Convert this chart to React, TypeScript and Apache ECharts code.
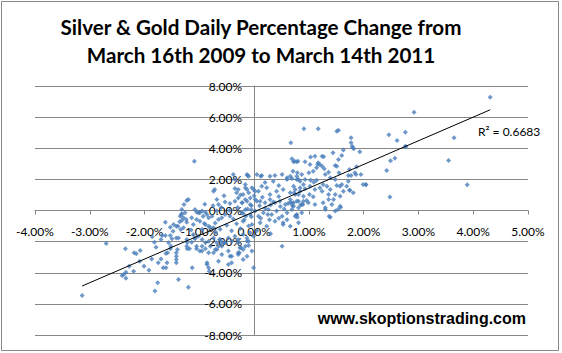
import React, { useEffect, useRef } from "react";
import * as echarts from "echarts";

// Daily % change: [gold %, silver %]
const TAIL_LOW: [number, number][] = [
  [-3.14, -5.46], [-2.70, -2.12], [-2.35, -2.46], [-2.19, -2.72], [-2.15, -2.78], [-2.08, -2.57],
  [-2.09, -3.26], [-2.28, -3.58], [-2.20, -3.90], [-2.41, -4.18], [-2.38, -4.11], [-2.34, -3.96],
  [-2.34, -4.35], [-2.01, -3.58], [-1.92, -3.84], [-1.87, -3.11], [-1.79, -2.36], [-1.82, -2.04],
  [-1.86, -1.69], [-1.76, -4.65], [-1.81, -5.18], [-1.70, -3.11], [-1.75, -3.36], [-1.66, -3.68],
  [-1.61, -3.68], [-1.59, -3.36], [-1.61, -2.76], [-1.58, -2.72], [-1.70, -1.86], [-1.68, -1.61],
  [-1.62, -1.61], [-1.62, -0.75], [-1.53, -1.07], [-1.53, -1.61], [-1.52, -2.29], [-1.53, -2.46],
  [-1.56, -2.08], [-1.50, -1.82], [-1.48, -1.33], [-1.47, -0.90], [-1.42, -1.01], [-1.39, -1.01],
  [-1.42, -1.76], [-1.38, -1.76], [-1.42, -2.72], [-1.42, -2.94], [-1.42, -3.15], [-1.42, -3.36],
  [-1.40, -2.51], [-1.38, -4.43], [-1.20, -4.93], [-1.36, -0.73], [-1.32, -0.64], [-1.34, -1.22],
  [-1.29, -1.11], [-1.35, -0.37], [-1.29, -0.47], [-1.32, 0.06], [-1.26, -0.15], [-1.24, -0.58],
  [-1.23, -0.75], [-1.22, -2.46], [-1.28, 0.39], [-1.23, 0.65], [-1.33, -0.26], [-1.23, -1.86],
  [-1.23, -2.29], [-1.22, -2.05],
];

const CORE_LEFT: [number, number][] = [
  [-1.09, 3.17], [-0.74, 1.24], [-0.72, 1.35], [-1.13, -3.68], [-1.18, -2.46], [-1.14, -2.04],
  [-1.08, -1.82], [-0.95, -2.29], [-0.89, -2.46], [-0.99, -2.61], [-1.05, -2.46], [-0.86, -3.47],
  [-0.83, -3.68], [-0.82, -3.90], [-0.74, -2.72], [-0.68, -2.51], [-0.65, -2.29], [-0.63, -1.86],
  [-0.59, -2.04], [-0.55, -2.08], [-0.47, -3.47], [-0.44, -2.94], [-0.27, -2.72], [-0.24, -2.40],
  [-0.16, -2.29], [-0.10, -2.25], [-0.13, -1.97], [-0.01, -3.68], [-0.91, -0.84], [-0.83, -1.01],
  [-0.74, -1.11], [-0.99, -0.15], [-0.89, -0.11], [-1.20, 0.71], [-0.35, 1.41], [-0.32, 1.14],
  [-0.13, 1.35], [-0.10, 1.14], [-0.04, 1.46], [-0.53, 0.55], [-0.44, 0.45], [-0.35, 0.60],
  [-0.29, 0.80], [-0.22, 0.50], [-0.16, 0.70], [-0.07, 0.80], [-1.08, 0.06], [-1.02, -0.15],
  [-0.95, -0.04], [-0.93, -0.37], [-0.86, -0.26], [-0.83, -0.47], [-0.77, -0.37], [-0.68, -0.04],
  [-0.65, -0.58], [-0.59, -0.47], [-0.53, -0.26], [-0.44, -0.37], [-1.14, -0.47], [-1.05, -0.58],
  [-0.99, -0.69], [-1.11, -0.90], [-1.11, -1.54], [-1.08, -1.76], [-1.02, -1.65], [-0.95, -1.86],
  [-0.89, -2.08], [-0.83, -1.97], [-0.80, -2.29], [-0.74, -1.76], [-0.68, -2.08], [-0.62, -1.86],
  [-0.59, -2.29], [-0.53, -2.08], [-0.47, -1.76], [-0.41, -1.97], [-0.35, -1.65], [-0.29, -1.86],
  [-0.20, -1.54], [-0.13, -1.76], [-0.07, -1.43], [-0.01, -1.65], [-1.05, -2.29], [-0.95, -2.61],
  [-0.83, -2.72], [-0.71, -2.51], [-0.59, -2.83], [-0.47, -2.61], [-0.41, -2.94], [-0.29, -2.72],
  [-0.20, -2.51], [-0.13, -2.94], [-0.04, -2.61], [-0.86, -3.36], [-0.65, -3.26], [-0.41, -3.36],
  [-0.20, -3.15], [-0.89, -0.90], [-0.80, -1.10], [-0.71, -0.80], [-0.62, -1.20], [-0.50, -0.95],
  [-0.41, -1.30], [-0.32, -0.85], [-0.25, -1.15], [-0.18, -0.60], [-0.10, -1.00], [-0.05, -0.40],
  [-0.38, -0.55], [-0.20, -0.20], [-0.12, 0.10], [-0.30, 0.20], [-0.45, 0.00], [-0.60, 0.20],
  [-0.75, 0.30], [-0.90, 0.40], [-0.55, 0.95], [-0.25, 1.00], [-0.05, 0.30], [-0.15, -0.35],
  [-0.70, -1.40], [-0.95, -1.20], [-1.15, -1.25], [-0.38, 2.31], [-0.12, 2.25], [-0.35, 1.99],
  [-0.16, 1.46], [-0.29, 1.35], [-0.01, 1.35], [-0.13, 2.31], [-0.10, 2.20], [-0.16, 1.67],
  [-0.20, 1.03], [-0.22, 0.49], [-0.13, 0.60], [-0.07, 0.39], [-0.22, -0.15], [-0.16, 0.06],
  [-0.07, -0.26], [-0.20, -0.69], [-0.04, -0.90], [-0.29, -2.08], [-0.26, -2.40], [-0.29, -2.83],
  [-0.10, -1.97], [-1.32, -0.21], [-1.05, -0.10], [-0.68, 0.71], [-0.65, 0.39],
];

const CORE_RIGHT: [number, number][] = [
  [0.02, 1.24], [0.05, 0.60], [0.05, 2.31], [0.14, 2.25], [0.29, 2.20], [0.38, 2.25], [0.51, 2.31],
  [0.60, 2.10], [0.66, 2.20], [0.69, 2.05], [0.78, 2.20], [0.12, 2.20], [0.35, 1.88], [0.60, 1.99],
  [0.72, 1.56], [0.81, 1.99], [0.14, 1.56], [0.23, 1.46], [0.08, 1.24], [0.29, 1.03], [0.41, 1.24],
  [0.53, 1.35], [0.66, 1.14], [0.75, 1.03], [0.84, 1.24], [0.02, 0.71], [0.11, 0.60], [0.20, 0.49],
  [0.29, 0.71], [0.38, 0.49], [0.47, 0.60], [0.57, 0.39], [0.66, 0.71], [0.72, 0.49], [0.81, 0.60],
  [0.90, 0.60], [0.02, -0.04], [0.08, -0.37], [0.17, -0.15], [0.26, 0.06], [0.32, -0.26],
  [0.41, -0.04], [0.51, -0.37], [0.60, -0.15], [0.69, 0.06], [0.75, -0.37], [0.87, -0.15],
  [0.11, -0.79], [0.23, -1.01], [0.38, -0.69], [0.53, -0.90], [0.66, -1.01], [0.81, -0.79],
  [0.00, 0.95], [0.15, 0.85], [0.30, 0.35], [0.45, 0.90], [0.55, 0.10], [0.70, 0.30], [0.85, 0.35],
  [0.10, 0.30], [0.20, 0.15], [0.35, 0.55], [0.48, 0.25], [0.62, 0.45], [-0.05, 0.05], [0.12, -0.50],
  [0.28, -0.60], [0.45, -0.50], [0.60, -0.60], [0.05, -1.30], [0.30, -1.50], [0.20, 1.80],
  [0.45, 1.60], [0.25, -0.25], [0.53, -0.79], [0.51, -2.29], [0.66, 0.49], [0.72, 0.28],
  [0.81, 0.17], [0.87, 0.39], [0.96, 0.64], [0.78, -0.26], [0.79, -0.43], [0.77, -0.30],
];

const UPPER_BAND: [number, number][] = [
  [0.91, 5.25], [1.17, 5.25], [1.51, 5.10], [1.54, 5.16], [1.77, 4.67], [1.77, 4.35], [1.79, 4.13],
  [1.82, 3.97], [1.93, 3.77], [1.63, 3.88], [1.44, 3.71], [1.60, 3.53], [1.54, 3.28], [1.48, 2.89],
  [1.51, 2.85], [1.55, 2.42], [1.74, 2.63], [1.77, 2.25], [1.95, 2.31], [1.99, 1.67], [1.74, 1.30],
  [1.24, 3.49], [1.11, 3.49], [1.03, 3.43], [0.93, 3.13], [0.78, 3.13], [0.72, 3.13], [0.69, 3.32],
  [1.17, 3.07], [1.20, 2.96], [1.24, 2.85], [1.02, 2.96], [1.08, 2.53], [1.00, 2.42], [0.87, 2.31],
  [0.79, 2.42], [0.71, 2.53], [1.28, 2.68], [1.30, 2.31], [1.36, 2.46], [1.39, 2.10], [1.48, 1.99],
  [1.72, 1.88], [1.69, 1.56], [1.51, 1.61], [1.57, 1.56], [1.60, 1.67], [1.26, 1.67], [1.33, 1.56],
  [1.20, 1.46], [1.14, 1.95], [1.09, 1.82], [1.03, 1.95], [0.93, 1.99], [0.84, 1.88], [0.78, 1.99],
  [0.90, 1.67], [0.84, 1.46], [0.75, 1.35], [0.93, 1.39], [1.02, 1.56], [1.11, 1.35], [1.24, 1.24],
  [1.39, 1.35], [1.63, 1.24], [1.81, 1.14], [2.04, 1.67], [0.73, 1.14], [0.81, 1.03], [0.90, 0.92],
  [1.01, 1.03], [1.08, 0.88], [1.36, 1.03], [1.48, 1.03], [1.45, 0.71], [1.57, 0.92], [0.69, 0.49],
  [0.78, 0.60], [0.89, 0.39], [0.99, 0.49], [1.11, 0.39], [1.26, 0.49], [1.42, 0.39], [1.36, 0.71],
  [1.30, 0.06], [1.39, -0.43], [1.53, 0.06], [1.58, 0.21], [1.30, 0.17], [1.37, -0.37], [1.48, -0.04],
  [1.57, 0.28], [0.67, 4.35], [0.74, 3.17], [0.80, 3.17], [1.27, 3.45], [1.16, 2.96], [1.14, 2.74],
  [1.87, 2.81], [1.84, 2.42], [1.86, 2.31], [1.72, 2.25], [1.75, 1.30], [1.80, 4.03],
];

const TAIL_HIGH: [number, number][] = [
  [4.31, 7.28], [2.92, 6.32], [3.65, 4.67], [3.55, 3.21], [3.89, 1.65], [2.76, 5.03], [2.46, 4.86],
  [2.61, 4.50], [2.76, 4.13], [2.77, 4.09], [2.57, 3.36], [2.49, 3.19], [2.42, 2.57], [2.48, 0.86],
  [2.04, 1.65],
];

// Linear trendline as shown in the reference (Excel fit)
const TREND_SLOPE = 1.52;
const TREND_INTERCEPT = -0.08;

const X_MIN = -4;
const X_MAX = 5;
const X_STEP = 1;
const Y_MIN = -8;
const Y_MAX = 8;
const Y_STEP = 2;

const TITLE_LINES = [
  "Silver & Gold Daily Percentage Change from",
  "March 16th 2009 to March 14th 2011",
];
const R2_LABEL = "R\u00B2 = 0.6683";
const WATERMARK = "www.skoptionstrading.com";

const GRID_COLOR = "#878787";
const POINT_COLOR = "#4A7EBB";
const LABEL_FONT = "Lato";

const GRID_LEFT = 35;
const GRID_RIGHT = 34;
const GRID_TOP = 86;
const GRID_BOTTOM = 18;
const W = 562;
const H = 353;

export default function App() {
  const ref = useRef<HTMLDivElement>(null);

  useEffect(() => {
    document.body.style.margin = "0";
    if (!ref.current) return;
    const chart = echarts.init(ref.current, null, { renderer: "svg" });
    const all = [...TAIL_LOW, ...CORE_LEFT, ...CORE_RIGHT, ...UPPER_BAND, ...TAIL_HIGH];
    const xs = all.map((p) => p[0]);
    const minX = Math.min(...xs);
    const maxX = Math.max(...xs);
    const trend = [
      [minX, TREND_INTERCEPT + TREND_SLOPE * minX],
      [maxX, TREND_INTERCEPT + TREND_SLOPE * maxX],
    ];
    const fmt = (v: number) => v.toFixed(2) + "%";

    // axes cross at zero: shift the axes (with their labels) inward
    const plotW = W - GRID_LEFT - GRID_RIGHT;
    const plotH = H - GRID_TOP - GRID_BOTTOM;
    const yAxisOffset = -((0 - X_MIN) / (X_MAX - X_MIN)) * plotW;
    const xAxisOffset = -((0 - Y_MIN) / (Y_MAX - Y_MIN)) * plotH;

    chart.setOption({
      animation: false,
      backgroundColor: "#ffffff",
      grid: { left: GRID_LEFT, right: GRID_RIGHT, top: GRID_TOP, bottom: GRID_BOTTOM, containLabel: false },
      xAxis: {
        type: "value",
        position: "bottom",
        offset: xAxisOffset,
        min: X_MIN,
        max: X_MAX,
        interval: X_STEP,
        axisLine: { show: true, onZero: false, lineStyle: { color: GRID_COLOR, width: 1 } },
        axisTick: { show: true, length: 4, lineStyle: { color: GRID_COLOR } },
        splitLine: { show: false },
        axisLabel: {
          formatter: fmt,
          margin: 15,
          color: "#000",
          fontFamily: LABEL_FONT,
          fontSize: 12,
        },
      },
      yAxis: {
        type: "value",
        position: "left",
        offset: yAxisOffset,
        min: Y_MIN,
        max: Y_MAX,
        interval: Y_STEP,
        axisLine: { show: true, onZero: false, lineStyle: { color: GRID_COLOR, width: 1 } },
        axisTick: { show: false },
        splitLine: { show: true, lineStyle: { color: GRID_COLOR, width: 1 } },
        axisLabel: {
          formatter: fmt,
          margin: 12,
          color: "#000",
          fontFamily: LABEL_FONT,
          fontSize: 12,
        },
      },
      series: [
        {
          type: "scatter",
          data: all,
          symbol: "diamond",
          symbolSize: 5,
          itemStyle: { color: POINT_COLOR },
          z: 2,
        },
        {
          type: "line",
          data: trend,
          symbol: "none",
          lineStyle: { color: "#000", width: 1 },
          z: 3,
        },
      ],
      graphic: [
        {
          type: "rect",
          shape: { x: 1.5, y: 1.5, width: 557, height: 349 },
          style: { fill: "none", stroke: GRID_COLOR, lineWidth: 1 },
          silent: true,
        },
        {
          type: "text",
          x: 261,
          y: 27,
          style: {
            text: TITLE_LINES[0],
            fontFamily: LABEL_FONT,
            fontWeight: "bold",
            fontSize: 20.6,
            fill: "#000",
            align: "center",
            verticalAlign: "middle",
          },
        },
        {
          type: "text",
          x: 261,
          y: 55,
          style: {
            text: TITLE_LINES[1],
            fontFamily: LABEL_FONT,
            fontWeight: "bold",
            fontSize: 20.6,
            fill: "#000",
            align: "center",
            verticalAlign: "middle",
          },
        },
        {
          type: "text",
          x: 478,
          y: 131,
          style: {
            text: R2_LABEL,
            fontFamily: LABEL_FONT,
            fontSize: 12,
            fill: "#000",
            align: "left",
            verticalAlign: "middle",
          },
        },
        {
          type: "text",
          x: 526,
          y: 318,
          style: {
            text: WATERMARK,
            fontFamily: "Liberation Sans",
            fontWeight: "bold",
            fontSize: 16,
            fill: "#000",
            align: "right",
            verticalAlign: "middle",
          },
        },
      ],
    });
    return () => chart.dispose();
  }, []);

  return <div ref={ref} style={{ width: W, height: H }} />;
}
